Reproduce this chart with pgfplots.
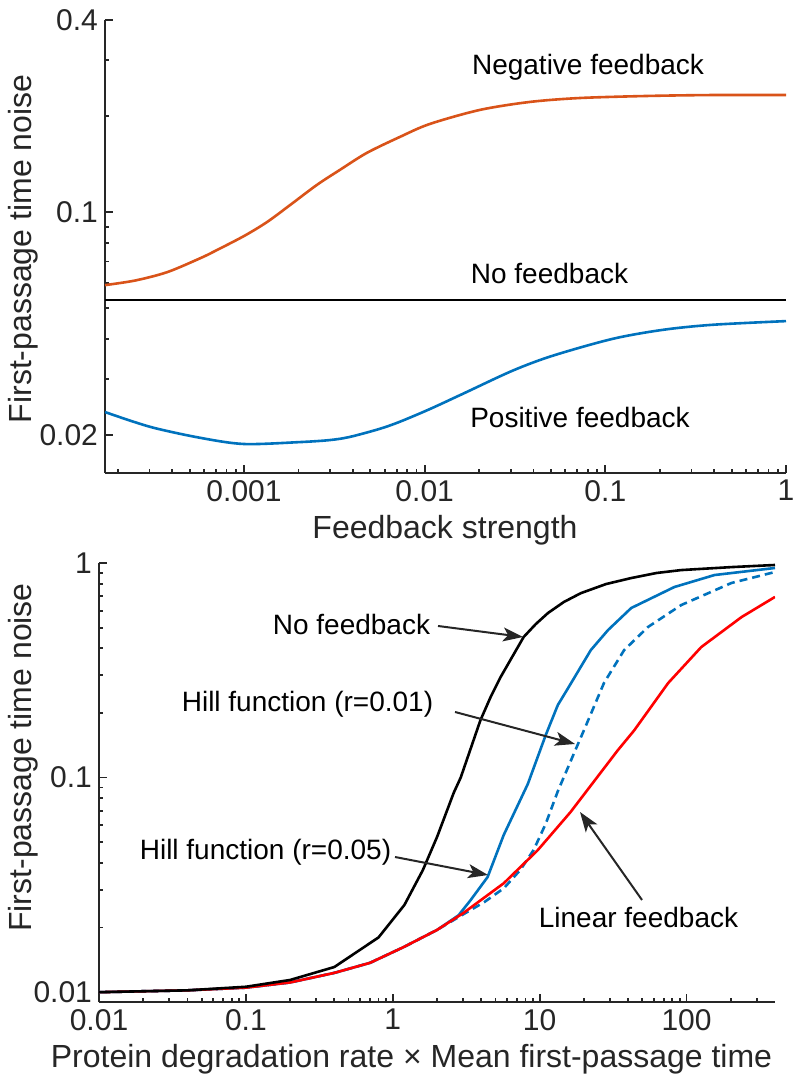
\documentclass[border=0pt]{standalone}
\usepackage{fontspec}
\setmainfont{Liberation Sans}
\usepackage{pgfplots}
\pgfplotsset{compat=1.18}
\usetikzlibrary{arrows.meta}
\definecolor{morange}{HTML}{D95319}
\definecolor{mblue}{HTML}{0072BD}
\definecolor{axgray}{HTML}{262626}
\definecolor{mred}{HTML}{FF0000}
\tikzset{crv/.style={line width=1.3pt, line join=round}}
\pgfplotsset{
  every axis/.append style={
  scale only axis,
  axis x line=bottom, axis y line=left,
  axis line style={-, line width=1pt, draw=axgray},
  tick align=inside, major tick length=3.8pt, minor tick length=2.2pt,
  every tick/.style={axgray, line width=0.9pt},
  tick label style={font=\fontsize{15}{17}\selectfont, text=axgray},
  enlargelimits=false}
}
\begin{document}
\begin{tikzpicture}
\useasboundingbox (0pt,0pt) rectangle (396.5pt,539.5pt);
% ---------- top panel ----------
\begin{axis}[xmode=log, ymode=log, at={(52.5pt,303pt)}, anchor=south west, width=340.5pt, height=226.5pt,
  xmin=1.7e-4, xmax=1, ymin=0.0152, ymax=0.4,
  xtick={0.001,0.01,0.1,1}, xticklabels={0.001,0.01,0.1,1},
  minor xtick={2e-4,3e-4,4e-4,5e-4,6e-4,7e-4,8e-4,9e-4,0.002,0.003,0.004,0.005,0.006,0.007,0.008,0.009,0.02,0.03,0.04,0.05,0.06,0.07,0.08,0.09,0.2,0.3,0.4,0.5,0.6,0.7,0.8,0.9},
  ytick={0.02,0.1,0.4}, yticklabels={0.02,0.1,0.4},
  minor ytick={0.03,0.04,0.05,0.06,0.07,0.08,0.09,0.2,0.3}]
\addplot[crv, black] coordinates {(0.00017,0.053) (1,0.053)};
\addplot[crv, morange, smooth, tension=0.5] coordinates {
(0.00017,0.0590) (0.00025,0.0610) (0.000376,0.0648) (0.000571,0.0716) (0.000692,0.0755)
(0.001,0.0841) (0.00134,0.0930) (0.0018,0.1052) (0.00253,0.1216) (0.00339,0.1355)
(0.00478,0.1532) (0.00728,0.1719) (0.01066,0.1888) (0.02014,0.2089) (0.038,0.2213)
(0.0718,0.2277) (0.1687,0.2311) (0.39,0.2327) (1,0.2327)};
\addplot[crv, mblue, smooth, tension=0.5] coordinates {
(0.00017,0.0236) (0.000303,0.0212) (0.000571,0.0196) (0.001,0.01874) (0.00204,0.0190)
(0.00299,0.01928) (0.00385,0.01972) (0.00563,0.0209) (0.00728,0.0220) (0.01066,0.0241)
(0.01622,0.0269) (0.0306,0.0318) (0.0508,0.0354) (0.1091,0.0400) (0.2068,0.0427)
(0.39,0.0443) (1,0.0455)};
\end{axis}
% ---------- bottom panel ----------
\begin{axis}[xmode=log, ymode=log, at={(49.5pt,38.5pt)}, anchor=south west, width=338pt, height=219.5pt,
  xmin=0.01, xmax=400, ymin=0.009, ymax=1,
  xtick={0.01,0.1,1,10,100}, xticklabels={0.01,0.1,1,10,100},
  minor xtick={0.02,0.03,0.04,0.05,0.06,0.07,0.08,0.09,0.2,0.3,0.4,0.5,0.6,0.7,0.8,0.9,2,3,4,5,6,7,8,9,20,30,40,50,60,70,80,90,200,300},
  ytick={0.01,0.1,1}, yticklabels={0.01,0.1,1},
  minor ytick={0.02,0.03,0.04,0.05,0.06,0.07,0.08,0.09,0.2,0.3,0.4,0.5,0.6,0.7,0.8,0.9}]
\addplot[crv, mblue] coordinates {
(0.01,0.0100) (0.04,0.0102) (0.1,0.0105) (0.2,0.0111) (0.4,0.0123) (0.7,0.0137)
(1.18,0.0162) (2.0,0.0195) (2.8,0.0228) (3.38,0.0268) (4.42,0.0344) (5.69,0.054)
(8.3,0.0933) (11.0,0.158) (13.3,0.218) (15.6,0.261) (22.3,0.393) (29.2,0.487)
(42,0.617) (82.6,0.773) (155,0.879) (400,0.948)};
\addplot[crv, mblue, dash pattern=on 4pt off 2.5pt] coordinates {
(0.01,0.0100) (0.04,0.0102) (0.1,0.0105) (0.2,0.0111) (0.4,0.0123) (0.7,0.0137)
(1.18,0.0162) (2.0,0.0195) (3.0,0.0230) (4.2,0.0263) (5.7,0.0305) (7.4,0.0372)
(9.1,0.0460) (11,0.061) (13.3,0.0865) (18.2,0.143) (20,0.166) (27.4,0.276)
(37.6,0.393) (54.8,0.504) (92,0.637) (202,0.807) (400,0.908)};
\addplot[crv, mred] coordinates {
(0.01,0.0100) (0.04,0.0102) (0.1,0.0105) (0.2,0.0111) (0.4,0.0123) (0.7,0.0137)
(1.18,0.0162) (2.0,0.0195) (3.0,0.0233) (5.7,0.0322) (9.7,0.0459) (16.2,0.069)
(34,0.134) (44,0.166) (75,0.276) (126,0.406) (237,0.56) (400,0.695)};
\addplot[crv, black] coordinates {
(0.01,0.0100) (0.04,0.0102) (0.1,0.0106) (0.2,0.0114) (0.4,0.0131) (0.8,0.0180)
(1.2,0.0255) (1.6,0.037) (2.0,0.0528) (2.6,0.085) (2.9,0.100) (3.95,0.185)
(4.63,0.237) (5.42,0.294) (6.55,0.3685) (7.78,0.452) (9.4,0.519) (11.4,0.585)
(14.6,0.658) (19.1,0.724) (28.3,0.798) (42,0.851) (62.2,0.898) (92,0.927)
(202,0.957) (400,0.979)};
\end{axis}
% ---------- labels ----------
\begin{scope}[every node/.style={font=\fontsize{16}{19}\selectfont, text=axgray, inner sep=0pt}]
\node[rotate=90, anchor=base] at (16pt,415pt) {First-passage time noise};
\node[anchor=base] at (222.5pt,270pt) {Feedback strength};
\node[rotate=90, anchor=base] at (15.5pt,160.75pt) {First-passage time noise};
\node[anchor=base] at (205.75pt,5.5pt) {Protein degradation rate × Mean first-passage time};
\end{scope}
\begin{scope}[every node/.style={font=\fontsize{14}{16}\selectfont, text=black, inner sep=0pt, anchor=base}]
\node at (294pt,502pt) {Negative feedback};
\node at (274.75pt,397.5pt) {No feedback};
\node at (290pt,325.5pt) {Positive feedback};
\node at (175.75pt,222pt) {No feedback};
\node at (153.75pt,183.5pt) {Hill function (r=0.01)};
\node at (132.75pt,109.5pt) {Hill function (r=0.05)};
\node at (319.25pt,75.5pt) {Linear feedback};
\end{scope}
\begin{scope}[axgray, line width=1pt, -{Stealth[length=10pt, width=7pt, inset=2.5pt]}]
\draw (219pt,226.5pt) -- (261.5pt,221pt);
\draw (227.5pt,183.5pt) -- (287.5pt,167.5pt);
\draw (197.5pt,111pt) -- (244pt,102pt);
\draw (321pt,89.5pt) -- (290pt,133.5pt);
\end{scope}
\end{tikzpicture}
\end{document}
